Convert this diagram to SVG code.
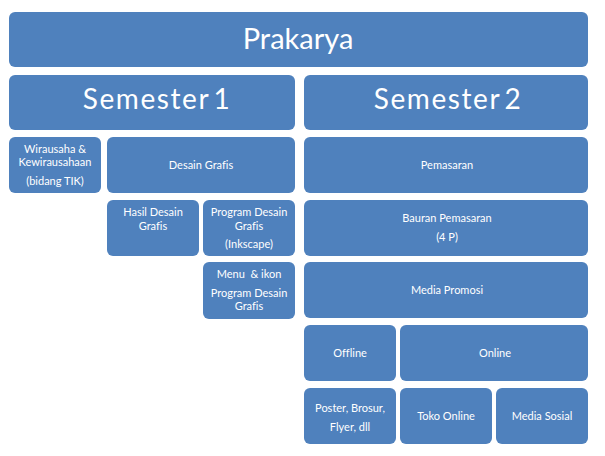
<svg xmlns="http://www.w3.org/2000/svg" width="605" height="456" viewBox="0 0 605 456">
<style>
rect.n{fill:#4F81BD;stroke:none}
text{fill:#FFFFFF;font-family:Lato,"Open Sans","Liberation Sans",sans-serif;text-anchor:middle;font-variant-ligatures:none}
.big{font-size:29px}
.mid{font-size:28px;letter-spacing:1.6px;word-spacing:-5px}
.sm{font-size:11px}
</style>
<rect width="605" height="456" fill="#FFFFFF"/>
<g id="connectors"/>
<g id="prakarya"><rect class="n" x="9" y="12" width="579" height="55" rx="6"/><text class="big" x="298" y="49">Prakarya</text></g>
<g id="semester1"><rect class="n" x="9" y="75" width="286" height="55" rx="6"/><text class="mid" x="157" y="109">Semester 1</text></g>
<g id="semester2"><rect class="n" x="304" y="75" width="284" height="55" rx="6"/><text class="mid" x="448" y="109">Semester 2</text></g>
<g id="wirausaha"><rect class="n" x="9" y="137" width="92" height="56" rx="6"/><text class="sm" x="55" y="153">Wirausaha &amp;</text><text class="sm" x="55" y="166">Kewirausahaan</text><text class="sm" x="55" y="185">(bidang TIK)</text></g>
<g id="desain-grafis"><rect class="n" x="107" y="137" width="188" height="56" rx="6"/><text class="sm" x="201" y="169">Desain Grafis</text></g>
<g id="hasil-desain"><rect class="n" x="107" y="200" width="92" height="56" rx="6"/><text class="sm" x="153" y="216">Hasil Desain</text><text class="sm" x="153" y="230">Grafis</text></g>
<g id="program-desain"><rect class="n" x="203" y="200" width="92" height="56" rx="6"/><text class="sm" x="249" y="216">Program Desain</text><text class="sm" x="249" y="230">Grafis</text><text class="sm" x="249" y="248">(Inkscape)</text></g>
<g id="menu-ikon"><rect class="n" x="203" y="262" width="92" height="57" rx="6"/><text class="sm" x="249" y="278" xml:space="preserve">Menu  &amp; ikon</text><text class="sm" x="249" y="297">Program Desain</text><text class="sm" x="249" y="310">Grafis</text></g>
<g id="pemasaran"><rect class="n" x="304" y="137" width="284" height="56" rx="6"/><text class="sm" x="447" y="169">Pemasaran</text></g>
<g id="bauran"><rect class="n" x="304" y="200" width="284" height="56" rx="6"/><text class="sm" x="447" y="222">Bauran Pemasaran</text><text class="sm" x="447" y="241">(4 P)</text></g>
<g id="media-promosi"><rect class="n" x="304" y="262" width="284" height="56" rx="6"/><text class="sm" x="447" y="294">Media Promosi</text></g>
<g id="offline"><rect class="n" x="304" y="325" width="92" height="56" rx="6"/><text class="sm" x="350" y="357">Offline</text></g>
<g id="online"><rect class="n" x="400" y="325" width="188" height="56" rx="6"/><text class="sm" x="495" y="357">Online</text></g>
<g id="poster"><rect class="n" x="304" y="388" width="92" height="56" rx="6"/><text class="sm" x="350" y="412">Poster, Brosur,</text><text class="sm" x="350" y="431">Flyer, dll</text></g>
<g id="toko-online"><rect class="n" x="400" y="388" width="92" height="56" rx="6"/><text class="sm" x="446" y="420">Toko Online</text></g>
<g id="media-sosial"><rect class="n" x="496" y="388" width="92" height="56" rx="6"/><text class="sm" x="542" y="420">Media Sosial</text></g>
</svg>
